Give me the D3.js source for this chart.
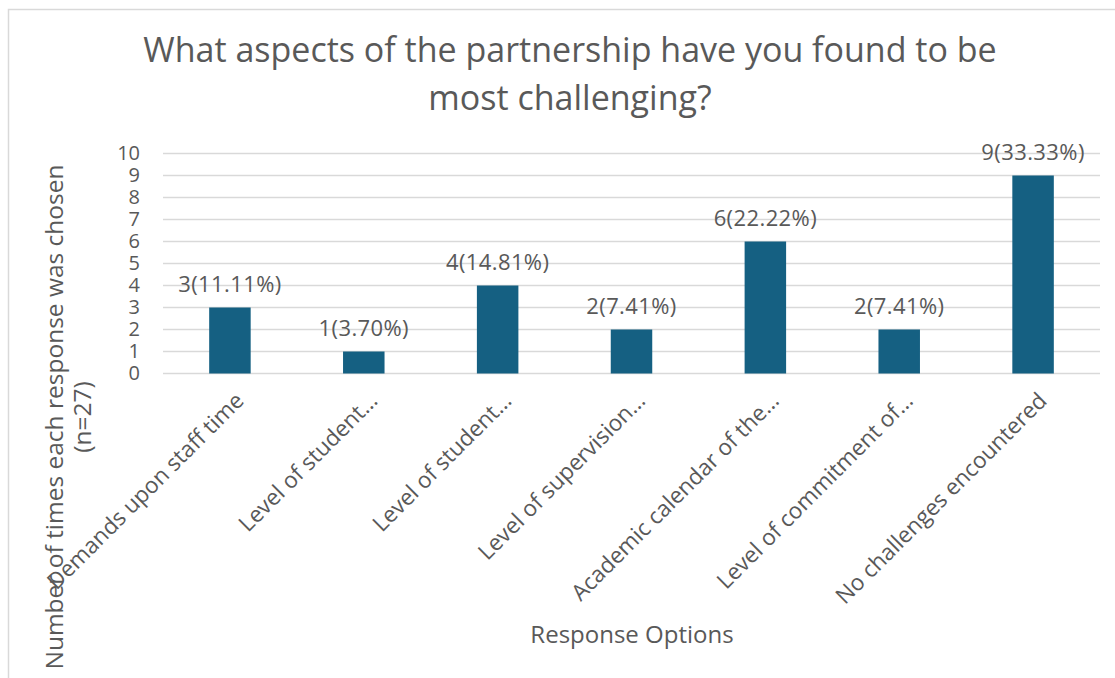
<!DOCTYPE html>
<html>
<head>
<meta charset="UTF-8">
<style>
    body { margin: 0; background: #fff; }
    svg text { font-family: "Open Sans", "Liberation Sans", sans-serif; fill: #595959; }
</style>
</head>
<body>
<svg id="chart"></svg>
<script src="https://cdnjs.cloudflare.com/ajax/libs/d3/7.8.5/d3.min.js"></script>
<script>
    // chart data
    const categories = [
        "Demands upon staff time",
        "Level of student…",
        "Level of student…",
        "Level of supervision…",
        "Academic calendar of the…",
        "Level of commitment of…",
        "No challenges encountered"
    ];
    const counts = [3, 1, 4, 2, 6, 2, 9];
    const labels = ["3(11.11%)", "1(3.70%)", "4(14.81%)", "2(7.41%)", "6(22.22%)", "2(7.41%)", "9(33.33%)"];
    const yTicks = [0, 1, 2, 3, 4, 5, 6, 7, 8, 9, 10];
    const titleLines = ["What aspects of the partnership have you found to be", "most challenging?"];
    const yTitleLines = ["Number of times each response was chosen", "(n=27)"];
    const xTitle = "Response Options";

    const width = 1115, height = 678;
    const plot = { left: 163, right: 1100, top: 153.5, bottom: 373.5 };

    const svg = d3.select("#chart")
        .attr("width", width)
        .attr("height", height);

    // outer chart border (right and bottom edges fall outside the picture)
    svg.append("rect")
        .attr("x", 8.5).attr("y", 9.5)
        .attr("width", 1130).attr("height", 700)
        .attr("fill", "none")
        .attr("stroke", "#d9d9d9")
        .attr("stroke-width", 1.5);

    const x = d3.scaleBand()
        .domain(d3.range(categories.length))
        .range([plot.left, plot.right])
        .paddingInner(0.69)
        .paddingOuter(0.345);

    const y = d3.scaleLinear()
        .domain([0, 10])
        .range([plot.bottom, plot.top]);

    // gridlines
    svg.append("g")
        .selectAll("line")
        .data(yTicks)
        .enter()
        .append("line")
        .attr("x1", plot.left)
        .attr("x2", plot.right)
        .attr("y1", d => y(d))
        .attr("y2", d => y(d))
        .attr("stroke", "#d9d9d9")
        .attr("stroke-width", 1.5);

    // y axis labels
    const yAxis = svg.append("g")
        .attr("transform", "translate(" + (plot.left - 23) + ",0)")
        .call(d3.axisLeft(y).tickValues(yTicks).tickSize(0).tickPadding(0));
    yAxis.select(".domain").remove();
    yAxis.selectAll("text")
        .style("font-size", "20px")
        .style("font-family", "'Open Sans', sans-serif")
        .attr("fill", "#595959");

    // bars
    svg.append("g")
        .selectAll("rect")
        .data(counts)
        .enter()
        .append("rect")
        .attr("x", (d, i) => x(i))
        .attr("y", d => y(d))
        .attr("width", x.bandwidth())
        .attr("height", d => y(0) - y(d))
        .attr("fill", "#156082");

    // value labels
    svg.append("g")
        .selectAll("text")
        .data(counts)
        .enter()
        .append("text")
        .attr("x", (d, i) => x(i) + x.bandwidth() / 2)
        .attr("y", d => y(d) - 16)
        .attr("text-anchor", "middle")
        .style("font-size", "22px")
        .style("letter-spacing", "0.4px")
        .text((d, i) => labels[i]);

    // category labels, rotated
    svg.append("g")
        .selectAll("text")
        .data(categories)
        .enter()
        .append("text")
        .attr("transform", (d, i) => "translate(" + (x(i) + x.bandwidth() / 2 + 4) + "," + 391 + ") rotate(-45)")
        .attr("text-anchor", "end")
        .attr("dy", "0.7em")
        .style("font-size", "22.5px")
        .text(d => d);

    // chart title
    svg.append("text")
        .attr("x", 570)
        .attr("y", 62)
        .attr("text-anchor", "middle")
        .style("font-size", "34px")
        .selectAll("tspan")
        .data(titleLines)
        .enter()
        .append("tspan")
        .attr("x", 570)
        .attr("dy", (d, i) => i ? 48 : 0)
        .text(d => d);

    // y axis title
    svg.append("text")
        .attr("transform", "translate(63,417) rotate(-90)")
        .attr("text-anchor", "middle")
        .style("font-size", "24.5px")
        .selectAll("tspan")
        .data(yTitleLines)
        .enter()
        .append("tspan")
        .attr("x", 0)
        .attr("dy", (d, i) => i ? 28 : 0)
        .text(d => d);

    // x axis title
    svg.append("text")
        .attr("x", 632)
        .attr("y", 643)
        .attr("text-anchor", "middle")
        .style("font-size", "24px")
        .text(xTitle);
</script>
</body>
</html>
